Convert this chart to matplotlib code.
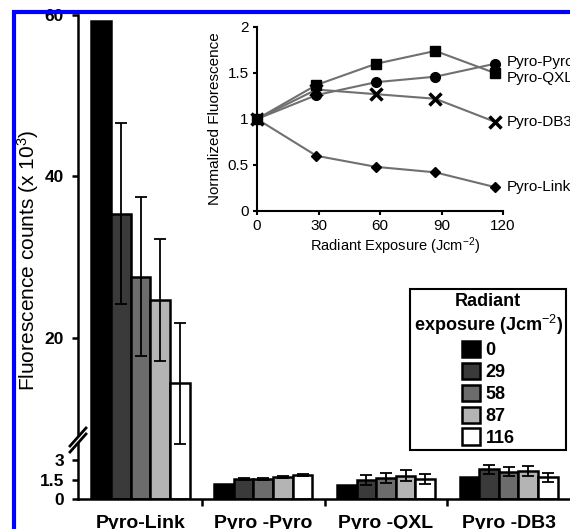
import numpy as np
import matplotlib.pyplot as plt
from matplotlib.patches import Rectangle, Polygon

plt.rcParams['font.family'] = ['Liberation Sans', 'DejaVu Sans']
plt.rcParams['mathtext.fontset'] = 'custom'
plt.rcParams['mathtext.rm'] = 'Liberation Sans'
plt.rcParams['mathtext.it'] = 'Liberation Sans:italic'
plt.rcParams['mathtext.bf'] = 'Liberation Sans:bold'

constructs = ["Pyro-Link", "Pyro -Pyro", "Pyro -QXL", "Pyro -DB3"]
exposures = ["0", "29", "58", "87", "116"]
bar_colors = ["#000000", "#3a3a3a", "#6c6c6c", "#b4b4b4", "#ffffff"]

# fluorescence counts (x 10^3) per exposure, in construct order
counts_0 = [59.3, 1.18, 1.10, 1.68]
counts_29 = [35.4, 1.55, 1.45, 2.28]
counts_58 = [27.6, 1.55, 1.62, 2.10]
counts_87 = [24.7, 1.70, 1.80, 2.15]
counts_116 = [14.4, 1.86, 1.52, 1.68]

err_0 = [0, 0, 0, 0]
err_29 = [11.2, 0.05, 0.38, 0.35]
err_58 = [9.8, 0.05, 0.38, 0.33]
err_87 = [7.5, 0.05, 0.40, 0.40]
err_116 = [7.5, 0.10, 0.38, 0.35]

all_counts = [counts_0, counts_29, counts_58, counts_87, counts_116]
all_err = [err_0, err_29, err_58, err_87, err_116]

# inset: normalized fluorescence vs radiant exposure
inset_x = [0, 29, 58, 87, 116]
norm_pyro = [1.0, 1.26, 1.40, 1.46, 1.60]
norm_qxl = [1.0, 1.37, 1.60, 1.74, 1.50]
norm_db3 = [1.0, 1.32, 1.27, 1.22, 0.97]
norm_link = [1.0, 0.60, 0.48, 0.42, 0.26]


# broken y axis: 0-3 stretched, 5-60 compressed
def fwd(v):
    v = np.asarray(v, dtype=float)
    return np.where(v <= 3, 13 * v,
                    np.where(v <= 5, 39 + (v - 3) * 0.5, 40 + (v - 5) * 444 / 55))


def inv(f):
    f = np.asarray(f, dtype=float)
    return np.where(f <= 39, f / 13,
                    np.where(f <= 40, 3 + (f - 39) / 0.5, 5 + (f - 40) * 55 / 444))


fig = plt.figure(figsize=(5.7, 5.29), dpi=100)
ax = fig.add_axes([78 / 570, 1 - 499 / 529, 492 / 570, 484 / 529])
ax.set_yscale('function', functions=(fwd, inv))

x = np.arange(len(constructs))
w = 0.16
for i in range(5):
    pos = x + (i - 2) * w
    ax.bar(pos, all_counts[i], w, color=bar_colors[i], edgecolor='black',
           linewidth=1.8, zorder=2, label=exposures[i])
    e = np.array(all_err[i])
    m = e > 0
    if m.any():
        ax.errorbar(pos[m], np.array(all_counts[i])[m], yerr=e[m], fmt='none',
                    ecolor='black', elinewidth=1.3, capsize=4.5, capthick=1.3, zorder=3)

ax.set_xlim(-0.51, 3.5)
ax.set_ylim(0, 60)
for s in ['top', 'right']:
    ax.spines[s].set_visible(False)
for s in ['left', 'bottom']:
    ax.spines[s].set_linewidth(1.8)

ax.set_yticks([0, 1.5, 3, 20, 40, 60])
ax.set_yticklabels(['0', '1.5', '3', '20', '40', '60'], fontweight='bold', fontsize=12.5)
ax.tick_params(axis='y', length=4, width=1.8, pad=6)
ax.set_xticks(x)
ax.set_xticklabels(constructs, fontweight='bold', fontsize=14)
ax.set_xticks([0.5, 1.5, 2.5], minor=True)
ax.tick_params(axis='x', which='major', length=0, pad=11.5)
ax.tick_params(axis='x', which='minor', length=5, width=1.8)

ax.set_ylabel("Fluorescence counts (x 10$^{3}$)", fontsize=15)
ax.yaxis.set_label_coords(-0.075, 0.494)

# break marks on the y spine
px, py = 1 / 492, 1 / 484
cy = 56 / 484
ax.add_patch(Polygon([(-8 * px, cy - 9 * py), (8 * px, cy + 9 * py),
                      (8 * px, cy + 15 * py), (-8 * px, cy - 3 * py)],
                     closed=True, transform=ax.transAxes, facecolor='white',
                     edgecolor='none', clip_on=False, zorder=5))
for off in (0, 6):
    ax.plot([-8 * px, 8 * px], [cy - 9 * py + off * py, cy + 9 * py + off * py],
            transform=ax.transAxes, color='black', lw=2, clip_on=False, zorder=6)

leg = ax.legend(title="Radiant\nexposure (Jcm$^{-2}$)", loc='upper left',
                bbox_to_anchor=(410 / 570, 1 - 289 / 529), bbox_transform=fig.transFigure,
                prop={'weight': 'bold', 'size': 13},
                title_fontproperties={'weight': 'bold', 'size': 13},
                fancybox=False, framealpha=1, edgecolor='black',
                handlelength=1.0, handleheight=1.0, handletextpad=0.3,
                labelspacing=0.2, borderpad=0.2, borderaxespad=0)
leg.get_frame().set_linewidth(1.5)
leg.get_title().set_multialignment('center')

# inset
axin = fig.add_axes([257 / 570, 1 - 211 / 529, 246 / 570, 184 / 529])
axin.patch.set_alpha(0)
line_kw = dict(color='#707070', lw=1.5, mfc='black', mec='black', clip_on=False)
axin.plot(inset_x, norm_link, marker='D', ms=5, **line_kw)
axin.plot(inset_x, norm_db3, marker='x', ms=9, mew=2.5, **line_kw)
axin.plot(inset_x, norm_pyro, marker='o', ms=7, **line_kw)
axin.plot(inset_x, norm_qxl, marker='s', ms=7, **line_kw)

label_y = [1.62, 1.445, 0.967, 0.26]
for name, yy in zip(["Pyro-Pyro", "Pyro-QXL", "Pyro-DB3", "Pyro-Link"], label_y):
    axin.text(122, yy, name, fontsize=11, va='center', ha='left', clip_on=False)

axin.set_xlim(0, 120)
axin.set_ylim(0, 2)
axin.set_xticks([0, 30, 60, 90, 120])
axin.set_yticks([0, 0.5, 1, 1.5, 2])
axin.set_yticklabels(['0', '0.5', '1', '1.5', '2'])
axin.tick_params(labelsize=11, length=3, width=1.5, pad=3)
for s in ['top', 'right']:
    axin.spines[s].set_visible(False)
for s in ['left', 'bottom']:
    axin.spines[s].set_linewidth(1.5)
axin.set_xlabel("Radiant Exposure (Jcm$^{-2}$)", fontsize=10.5)
axin.xaxis.set_label_coords(0.56, -0.13)
axin.set_ylabel("Normalized Fluorescence", fontsize=11, labelpad=4)

# blue frame around the panel (cut off at right and bottom)
fig.add_artist(Rectangle((14 / 570, -0.2), 1.5, 1 - 12 / 529 + 0.2,
                         transform=fig.transFigure, fill=False,
                         edgecolor='#0000ff', lw=3, zorder=10))

fig.savefig('out.png', dpi=100)
